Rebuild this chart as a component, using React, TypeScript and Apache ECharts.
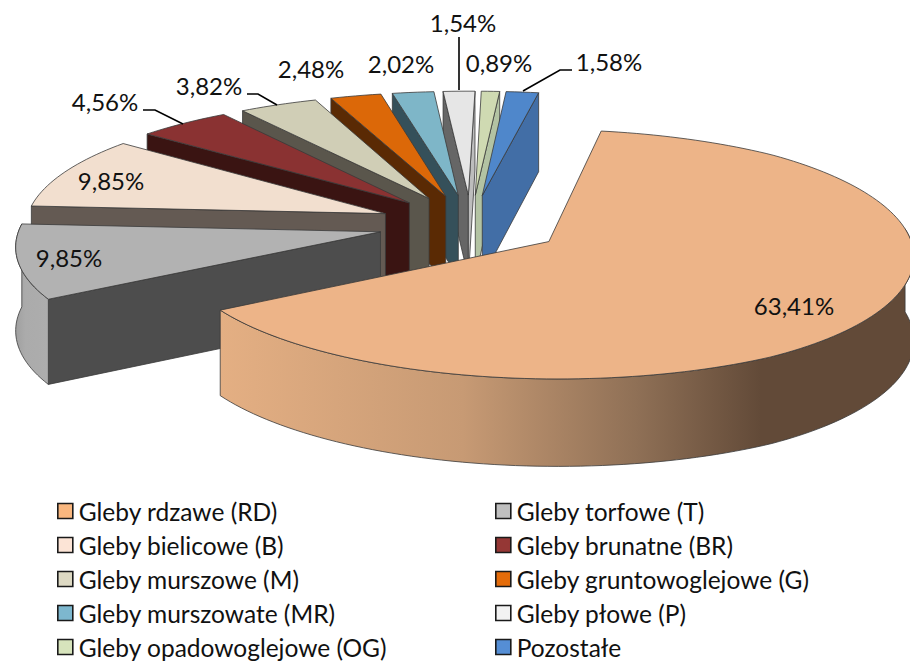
import React, { useEffect, useRef } from "react";
import * as echarts from "echarts";

const categories = [
  "Gleby rdzawe (RD)", "Gleby torfowe (T)", "Gleby bielicowe (B)", "Gleby brunatne (BR)",
  "Gleby murszowe (M)", "Gleby gruntowoglejowe (G)", "Gleby murszowate (MR)", "Gleby płowe (P)",
  "Gleby opadowoglejowe (OG)", "Pozostałe",
];
const shares = [63.41, 9.85, 9.85, 4.56, 3.82, 2.48, 2.02, 1.54, 0.89, 1.58];
const legendColors = ["#F9B77F", "#BFBFBF", "#FCE4D6", "#953735", "#DDD9C3", "#E46C0A", "#7DB7CE", "#F2F2F2", "#D7E4BC", "#558ED5"];
const topColors = ["#EDB488", "#B2B2B2", "#F2DFCF", "#8A3232", "#D0CEB6", "#DC6808", "#7EB6C8", "#E6E6E6", "#CFDAB2", "#4F87CB"];
const wallColors = ["#624A38", "#4D4D4D", "#645A53", "#3A1412", "#5A564C", "#5A2A04", "#35505A", "#666666", "#B3C3A3", "#426EA6"];
const drawOrder = [7, 8, 9, 6, 5, 4, 3, 2, 1, 0];
const labelCenters: number[][] = [
  [794, 305], [69, 257], [111, 180], [105, 101], [209, 85], [311, 68], [401, 63], [463, 22], [499, 62], [609, 61],
];
const leaderLines: number[][][] = [
  [[143, 110], [155, 110], [183, 124]],
  [[247, 94], [258, 94], [277, 105]],
  [[459, 37], [459, 90]],
  [[572, 70], [560, 70], [523, 91]],
];

const START = 10;
const EXPLODE = 0.25;
const P = 0.1, AX = 371, BY = 120, X0 = 471, Y0 = 224.5, WALL = 83;
const rad = (d: number) => (d * Math.PI) / 180;

// The reference's camera flattens the far left and right a little.
function spread(d: number): number {
  if (d > 300) return d - (d - 300) * 0.09;
  if (d < -340) return d - (d + 340) * 0.09;
  return d;
}

function project(X: number, Y: number, low: boolean): number[] {
  const s = 1 / (1 + P * Y);
  return [X0 + spread(AX * X * s), Y0 - BY * Y * s + (low ? WALL * Math.pow(s, 0.43) : 0)];
}

function sliceRange(i: number) {
  let sum = 0;
  for (let k = 0; k < i; k++) sum += shares[k];
  const a0 = START + (sum / 100) * 360;
  return [a0, a0 + (shares[i] / 100) * 360];
}

function renderSlice(i: number) {
  return (_params: any, api: any) => {
    const value = api.value(0);
    const [a0] = sliceRange(i);
    const a1 = a0 + (value / 100) * 360;
    const mid = rad((a0 + a1) / 2);
    const ox = EXPLODE * Math.sin(mid);
    const oy = EXPLODE * Math.cos(mid);
    const pt = (deg: number, low: boolean) => {
      const sn = Math.sin(rad(deg));
      const rx = i === 0 && sn < 0 ? 0.985 : 1;
      return project(ox + rx * sn, oy + Math.cos(rad(deg)), low);
    };
    const tip = (low: boolean) => project(ox, oy, low);
    const arc = (from: number, to: number, low: boolean) => {
      const n = Math.max(2, Math.ceil((to - from) / 1.5));
      const out: number[][] = [];
      for (let k = 0; k <= n; k++) out.push(pt(from + ((to - from) * k) / n, low));
      return out;
    };
    const line = { stroke: "#3a3a3a", lineWidth: 0.8, lineJoin: "round" };
    const children: any[] = [];
    const wall = (deg: number, fill: string) => {
      children.push({
        type: "polygon",
        shape: { points: [tip(false), pt(deg, false), pt(deg, true), tip(true)] },
        style: { fill, ...line },
      });
    };
    if (Math.sin(rad(a0)) < 0) wall(a0, wallColors[i]);
    if (Math.sin(rad(a1)) > 0) wall(a1, i === 7 ? "#BDBDBD" : wallColors[i]);
    const w0 = Math.max(a0, 84);
    const w1 = Math.min(a1, 276);
    if (w0 < 276 && w1 > w0 && (i === 0 || i === 1)) {
      const fill =
        i === 0
          ? new echarts.graphic.LinearGradient(0, 0, 1, 0, [
              { offset: 0, color: "#E4AF83" },
              { offset: 0.35, color: "#C79A74" },
              { offset: 0.6, color: "#8F7056" },
              { offset: 0.78, color: "#624A38" },
              { offset: 1, color: "#624A38" },
            ])
          : new echarts.graphic.LinearGradient(0, 0, 1, 0, [
              { offset: 0, color: "#A0A0A0" },
              { offset: 0.3, color: "#ABABAB" },
              { offset: 1, color: "#ADADAD" },
            ]);
      children.push({
        type: "polygon",
        shape: { points: [...arc(w0, w1, false), ...arc(w0, w1, true).reverse()] },
        style: { fill, ...line },
      });
    }
    children.push({
      type: "polygon",
      shape: { points: [tip(false), ...arc(a0, a1, false)] },
      style: { fill: topColors[i], ...line },
    });
    return { type: "group", children };
  };
}

const labelText = (v: number) => v.toFixed(2).replace(".", ",") + "%";
const FONT = "Lato, 'Open Sans', sans-serif";

export default function App() {
  const ref = useRef<HTMLDivElement>(null);
  useEffect(() => {
    document.body.style.margin = "0";
    const chart = echarts.init(ref.current!, undefined, { renderer: "svg" });
    const legendBase = {
      orient: "vertical",
      top: 493,
      height: 168,
      itemWidth: 15,
      itemHeight: 15,
      itemGap: 8,
      icon: "rect",
      selectedMode: false,
      itemStyle: { borderColor: "#1a1a1a", borderWidth: 1.6 },
      textStyle: { fontFamily: FONT, fontSize: 24.5, color: "#111", padding: [0, 0, 0, 1], height: 26, lineHeight: 26 },
    };
    chart.setOption({
      animation: false,
      legend: [
        { ...legendBase, left: 52, data: categories.filter((_, i) => i % 2 === 0) },
        { ...legendBase, left: 490, data: categories.filter((_, i) => i % 2 === 1) },
      ],
      series: drawOrder.map((i, order) => ({
        type: "custom",
        name: categories[i],
        coordinateSystem: "none",
        clip: false,
        silent: true,
        z: 2 + order,
        itemStyle: { color: legendColors[i] },
        data: [[shares[i]]],
        renderItem: renderSlice(i),
      })),
      graphic: [
        ...shares.map((v, i) => ({
          type: "text",
          z: 100,
          x: labelCenters[i][0],
          y: labelCenters[i][1],
          style: { text: labelText(v), fontFamily: FONT, fontSize: 24, fill: "#111", align: "center", verticalAlign: "middle" },
        })),
        ...leaderLines.map((points) => ({
          type: "polyline",
          z: 100,
          shape: { points },
          style: { stroke: "#000", lineWidth: 1.6, fill: "none" },
        })),
      ],
    });
    return () => chart.dispose();
  }, []);
  return <div ref={ref} style={{ width: 910, height: 661 }} />;
}
